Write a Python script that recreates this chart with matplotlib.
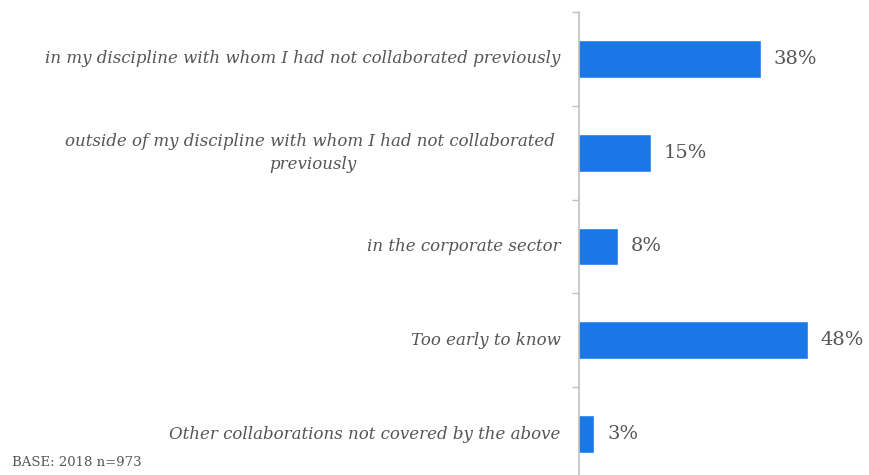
import numpy as np
import matplotlib.pyplot as plt

# data
categories = [
    "in my discipline with whom I had not collaborated previously",
    "outside of my discipline with whom I had not collaborated \npreviously",
    "in the corporate sector",
    "Too early to know",
    "Other collaborations not covered by the above",
]
values = [38, 15, 8, 48, 3]
value_labels = ["38%", "15%", "8%", "48%", "3%"]
base_note = "BASE: 2018 n=973"

BAR_COLOR = "#1a77e6"
TEXT_COLOR = "#555555"
AXIS_COLOR = "#c0c0c0"

fig = plt.figure(figsize=(8.69, 4.75), dpi=100)
# axes placed so the category bands line up with the reference
left = 579 / 869
right = 864 / 869
top = 1 - 12 / 475
bottom = 1 - 481 / 475
ax = fig.add_axes([left, bottom, right - left, top - bottom])

n = len(categories)
y = np.arange(n)
ax.barh(y, values, height=0.38, color=BAR_COLOR, edgecolor="#3d8cf0", linewidth=0.6)
ax.set_ylim(n - 0.5, -0.5)
ax.set_xlim(0, 60)

for yi, v, lab in zip(y, values, value_labels):
    ax.text(v + 2.9, yi, lab, va="center", ha="left", fontsize=14,
            family="DejaVu Serif", color=TEXT_COLOR)

for yi, cat in zip(y, categories):
    ax.text(-3.9, yi, cat, va="center", ha="right", multialignment="center",
            fontsize=12, family="DejaVu Serif", style="italic", color=TEXT_COLOR,
            linespacing=1.45)

# category boundary ticks on the left spine
ax.set_yticks(np.arange(-0.5, n, 1.0))
ax.set_yticklabels([])
ax.tick_params(axis="y", length=5, color=AXIS_COLOR, width=1, direction="out")
ax.set_xticks([])
for s in ["top", "right", "bottom"]:
    ax.spines[s].set_visible(False)
ax.spines["left"].set_color(AXIS_COLOR)
ax.spines["left"].set_linewidth(1.2)

fig.text(12 / 869, 1 - 462 / 475, base_note, fontsize=9.5, family="DejaVu Serif",
         color=TEXT_COLOR, va="center", ha="left")

fig.savefig("out.png", dpi=100)
